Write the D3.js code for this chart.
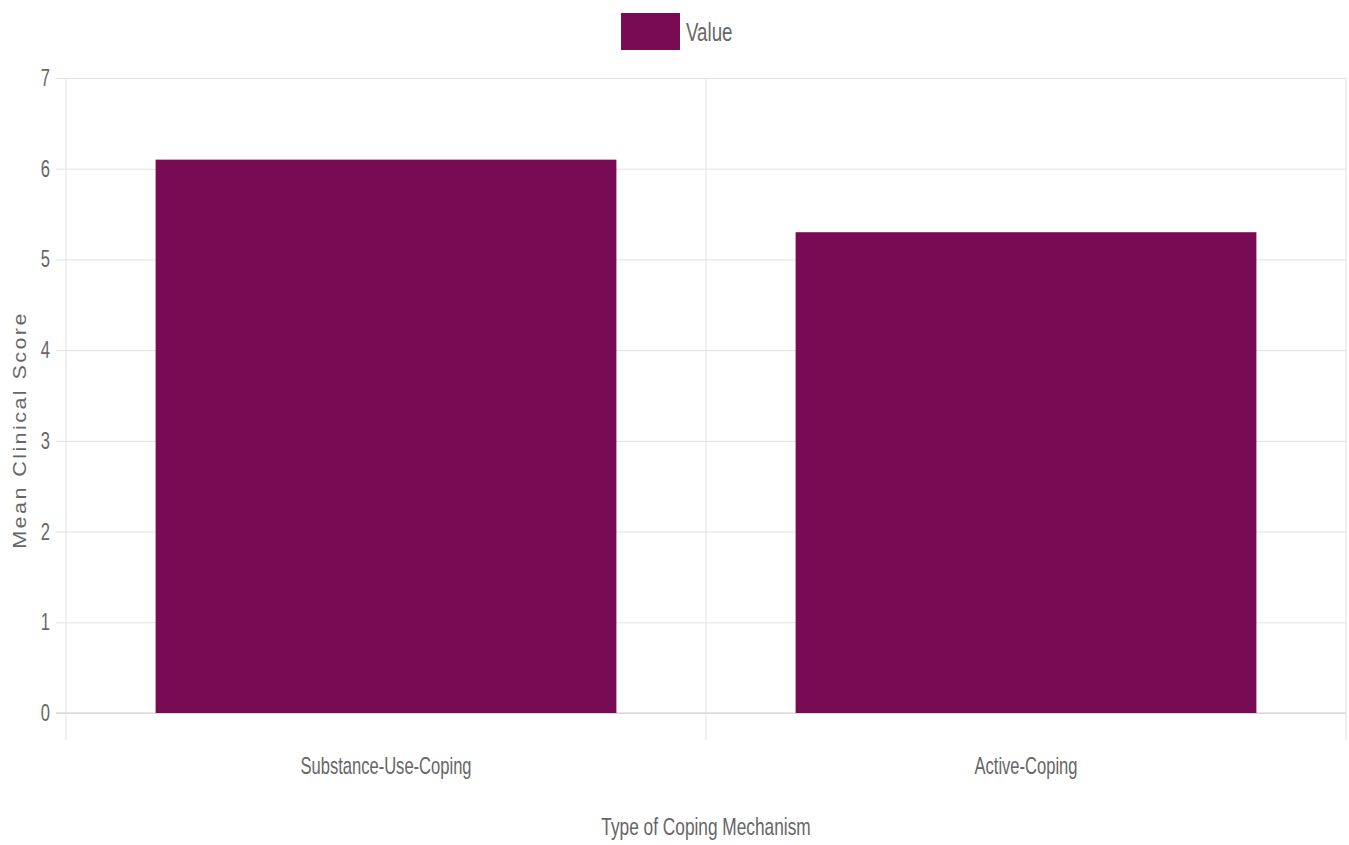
<!DOCTYPE html>
<html lang="en">
<head>
<meta charset="utf-8">
<title>Coping Mechanism</title>
<script src="https://cdn.jsdelivr.net/npm/d3@7"></script>
<style>
  body { margin: 0; background: #fff; }
  text { font-family: "Liberation Sans", Arial, sans-serif; fill: #666; }
</style>
</head>
<body>
<div id="chart"></div>
<script>
// data
var categories = ["Substance-Use-Coping", "Active-Coping"];
var values = [6.1, 5.3];
var yTicks = [0, 1, 2, 3, 4, 5, 6, 7];
var seriesName = "Value";

var W = 1349, H = 845;
var margin = {top: 78, right: 3, bottom: 132, left: 66};
var width = W - margin.left - margin.right;
var height = H - margin.top - margin.bottom;
var barColor = "#780b54";
var gridColor = "#e2e2e2";
var squeeze = 0.72; // narrow-looking text like the original

var svg = d3.select("#chart").append("svg")
    .attr("width", W).attr("height", H);

var g = svg.append("g")
    .attr("transform", "translate(" + margin.left + "," + margin.top + ")");

var x = d3.scaleBand().domain(categories).range([0, width]).paddingInner(0).paddingOuter(0);
var y = d3.scaleLinear().domain([0, 7]).range([height, 0]);

// horizontal grid + tick marks
var yAxis = d3.axisLeft(y).tickValues(yTicks).tickSize(-width - 10).tickFormat("");
g.append("g")
    .attr("transform", "translate(" + (-10) + ",0)")
    .call(yAxis)
    .call(function(s) {
        s.select(".domain").remove();
        s.selectAll(".tick line").attr("stroke", gridColor).attr("x1", 0).attr("x2", width + 10);
    });

// vertical grid lines at the category edges
var edges = [0].concat(categories.map(function(c) { return x(c) + x.bandwidth(); }));
g.selectAll(".vgrid").data(edges).enter().append("line")
    .attr("class", "vgrid")
    .attr("x1", function(d) { return d; }).attr("x2", function(d) { return d; })
    .attr("y1", 0).attr("y2", height + 27)
    .attr("stroke", gridColor);

// zero line slightly darker
g.append("line")
    .attr("x1", -10).attr("x2", width)
    .attr("y1", y(0)).attr("y2", y(0))
    .attr("stroke", "#cfcfcf");

// bars
var barW = x.bandwidth() * 0.72;
g.selectAll(".bar").data(values).enter().append("rect")
    .attr("class", "bar")
    .attr("x", function(d, i) { return x(categories[i]) + (x.bandwidth() - barW) / 2; })
    .attr("y", function(d) { return y(d); })
    .attr("width", barW)
    .attr("height", function(d) { return y(0) - y(d); })
    .attr("fill", barColor);

// y tick labels
g.selectAll(".ylab").data(yTicks).enter().append("text")
    .attr("class", "ylab")
    .attr("transform", function(d) { return "translate(-16," + y(d) + ") scale(" + squeeze + ",1)"; })
    .attr("text-anchor", "end")
    .attr("dy", "0.35em")
    .style("font-size", "23px")
    .text(function(d) { return d; });

// x tick labels
g.selectAll(".xlab").data(categories).enter().append("text")
    .attr("class", "xlab")
    .attr("transform", function(d) { return "translate(" + (x(d) + x.bandwidth() / 2) + "," + (height + 53) + ") scale(" + squeeze + ",1)"; })
    .attr("text-anchor", "middle")
    .attr("dy", "0.35em")
    .style("font-size", "23px")
    .text(function(d) { return d; });

// x axis title
svg.append("text")
    .attr("transform", "translate(" + (margin.left + width / 2) + ",827) scale(" + squeeze + ",1)")
    .attr("text-anchor", "middle")
    .attr("dy", "0.35em")
    .style("font-size", "24px")
    .text("Type of Coping Mechanism");

// y axis title
svg.append("text")
    .attr("transform", "translate(20,430) rotate(-90) scale(1.2,1)")
    .attr("text-anchor", "middle")
    .attr("dy", "0.35em")
    .style("font-size", "18px")
    .style("letter-spacing", "2px")
    .text("Mean Clinical Score");

// legend
svg.append("rect")
    .attr("x", 621).attr("y", 13).attr("width", 59).attr("height", 37)
    .attr("fill", barColor);
svg.append("text")
    .attr("transform", "translate(686,32) scale(" + squeeze + ",1)")
    .attr("dy", "0.35em")
    .style("font-size", "26px")
    .text(seriesName);
</script>
</body>
</html>
